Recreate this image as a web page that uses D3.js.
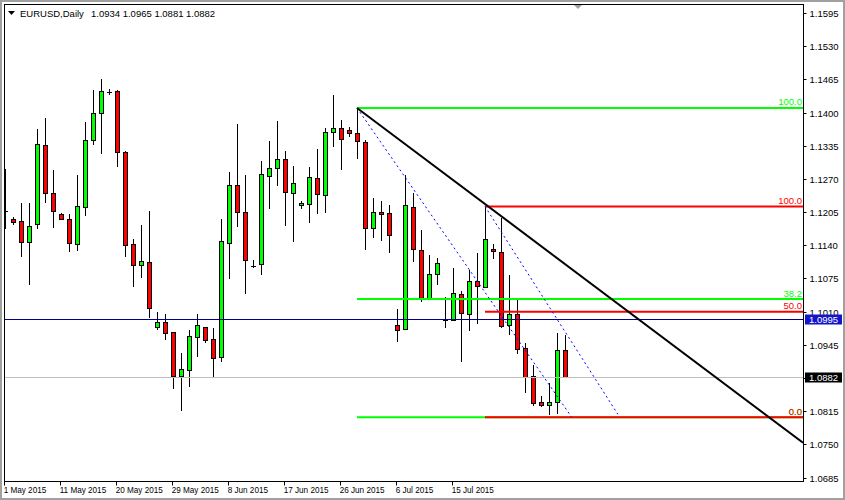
<!DOCTYPE html>
<html><head><meta charset="utf-8">
<script src="https://cdn.jsdelivr.net/npm/d3@7"></script>
<style>
html,body{margin:0;padding:0;background:#fff;}
svg{display:block;font-family:'Liberation Sans',Arial,sans-serif;}
</style></head>
<body>
<svg id="chart" width="845" height="500"></svg>
<script>
// ---- data ----
const symbol = "EURUSD,Daily";
const open  = [1.1208,1.1191,1.1187,1.1146,1.1181,1.1336,1.1243,1.1201,1.1191,1.1142,1.1214,1.1346,1.1399,1.1441,1.1442,1.1322,1.1142,1.1101,1.1107,1.0980,1.0989,1.0970,1.0883,1.0896,1.0960,1.0979,1.0956,1.0922,1.1145,1.1258,1.1205,1.1100,1.1103,1.1276,1.1291,1.1308,1.1242,1.1218,1.1220,1.1271,1.1238,1.1361,1.1369,1.1365,1.1359,1.1342,1.1173,1.1205,1.1203,1.0983,1.0975,1.1214,1.1130,1.1036,1.1083,1.0993,1.0993,1.1044,1.1005,1.1069,1.1058,1.1132,1.1126,1.0983,1.1005,1.0938,1.0883,1.0832,1.0828,1.0832,1.0934];
const high  = [1.1289,1.1195,1.1222,1.1222,1.1367,1.1389,1.1287,1.1203,1.1201,1.1278,1.1382,1.1444,1.1466,1.1446,1.1444,1.1325,1.1152,1.1180,1.1207,1.1009,1.1006,1.0970,1.0928,1.0974,1.1005,1.0979,1.0978,1.1191,1.1284,1.1378,1.1277,1.1111,1.1305,1.1344,1.1383,1.1325,1.1295,1.1227,1.1293,1.1329,1.1370,1.1434,1.1385,1.1372,1.1409,1.1347,1.1233,1.1227,1.1218,1.1015,1.1278,1.1242,1.1169,1.1120,1.1116,1.1039,1.1095,1.1051,1.1091,1.1124,1.1216,1.1142,1.1193,1.1082,1.1033,1.0949,1.0905,1.0844,1.0870,1.0969,1.0965];
const low   = [1.1174,1.1181,1.1119,1.1065,1.1173,1.1225,1.1176,1.1191,1.1129,1.1130,1.1199,1.1338,1.1321,1.1436,1.1296,1.1118,1.1061,1.1077,1.1000,1.0976,1.0956,1.0861,1.0817,1.0865,1.0924,1.0951,1.0884,1.0914,1.1076,1.1178,1.1047,1.1098,1.1083,1.1212,1.1259,1.1180,1.1149,1.1212,1.1186,1.1204,1.1206,1.1335,1.1290,1.1355,1.1310,1.1133,1.1156,1.1151,1.1127,1.0953,1.0975,1.1110,1.1030,1.1036,1.1064,1.0979,1.0993,1.0914,1.0973,1.0988,1.1058,1.1116,1.0979,1.0966,1.0928,1.0853,1.0828,1.0826,1.0809,1.0811,1.0881];
const close = [1.1208,1.1186,1.1147,1.1177,1.1338,1.1242,1.1207,1.1192,1.1144,1.1216,1.1346,1.1400,1.1442,1.1441,1.1322,1.1140,1.1101,1.1109,1.1017,1.0989,1.0968,1.0884,1.0897,1.0962,1.0983,1.0955,1.0920,1.1148,1.1259,1.1206,1.1111,1.1100,1.1279,1.1291,1.1308,1.1244,1.1261,1.1222,1.1273,1.1240,1.1361,1.1369,1.1348,1.1359,1.1344,1.1173,1.1205,1.1201,1.1160,1.0973,1.1218,1.1132,1.1036,1.1083,1.1105,1.0996,1.1046,1.1007,1.1069,1.1060,1.1152,1.1128,1.0981,1.1005,1.0936,1.0881,1.0830,1.0828,1.0832,1.0934,1.0882];

const dateIdx    = [0,7,14,21,28,35,42,49,56];
const dateLabels = ["1 May 2015","11 May 2015","20 May 2015","29 May 2015","8 Jun 2015","17 Jun 2015","26 Jun 2015","6 Jul 2015","15 Jul 2015"];
const priceTicks = [1.1595,1.1530,1.1465,1.1400,1.1335,1.1270,1.1205,1.1140,1.1075,1.1010,1.0945,1.0880,1.0815,1.0750,1.0685];

// Fibonacci retracements: [anchor bar, 100% price, 0% price]
const fibGreenAnchor = [44, 1.1409, 1.0803];
const fibGreenLevels = [0, 38.2, 100];
const fibRedAnchor   = [60, 1.1216, 1.0803];
const fibRedLevels   = [0, 50, 100];

// trend lines: [bar, price] pairs
const trendBlack = [[44, 1.1409], [99.75, 1.0753]];
const channelA   = [[44, 1.1409], [70.8, 1.0804]];
const channelB   = [[60, 1.1216], [76.6, 1.0809]];

const hLinePrice = 1.0995;
const bidPrice   = 1.0882;

// ---- layout ----
const svg = d3.select("#chart");
const L = 4, R = 803, T = 4, B = 481;
const x = d3.scaleLinear().domain([0, 1]).range([5, 13]);
const y = d3.scaleLinear().domain([1.0685, 1.1595]).range([477.5, 13]);
const fmt = d3.format(".4f");

// window frame
svg.append("rect").attr("x",0).attr("y",0).attr("width",845).attr("height",500).attr("fill","#fff");
svg.append("rect").attr("x",1).attr("y",1).attr("width",843).attr("height",498)
  .attr("fill","none").attr("stroke","#a0a0a0").attr("stroke-width",2);

svg.append("defs").append("clipPath").attr("id","plot")
  .append("rect").attr("x",L+1).attr("y",T+1).attr("width",R-L-1).attr("height",B-T-1);

const plot = svg.append("g").attr("clip-path","url(#plot)");

// candles
const idx = d3.range(open.length);
const cx = i => Math.round(x(i));
const py = v => Math.round(y(v));

plot.append("g").selectAll("line").data(idx).join("line")
  .attr("x1", i => cx(i)+0.5).attr("x2", i => cx(i)+0.5)
  .attr("y1", i => py(high[i])).attr("y2", i => py(low[i])+1)
  .attr("stroke","#000").attr("stroke-width",1);

const bodies = idx.filter(i => py(open[i]) !== py(close[i]));
const dojis  = idx.filter(i => py(open[i]) === py(close[i]));

plot.append("g").selectAll("rect").data(bodies).join("rect")
  .attr("x", i => cx(i)-1.5)
  .attr("y", i => Math.min(py(open[i]), py(close[i])) + 0.5)
  .attr("width", 4)
  .attr("height", i => Math.abs(py(open[i]) - py(close[i])))
  .attr("fill", i => close[i] > open[i] ? "#00ff00" : "#ff0000")
  .attr("stroke","#000").attr("stroke-width",1);

plot.append("g").selectAll("line").data(dojis).join("line")
  .attr("x1", i => cx(i)-2).attr("x2", i => cx(i)+3)
  .attr("y1", i => py(close[i])+0.5).attr("y2", i => py(close[i])+0.5)
  .attr("stroke","#000").attr("stroke-width",1);

// horizontal lines
plot.append("line").attr("x1",L).attr("x2",R)
  .attr("y1",py(bidPrice)+0.5).attr("y2",py(bidPrice)+0.5)
  .attr("stroke","#c0c0c0").attr("stroke-width",1);
plot.append("line").attr("x1",L).attr("x2",R)
  .attr("y1",py(hLinePrice)+0.5).attr("y2",py(hLinePrice)+0.5)
  .attr("stroke","#00008c").attr("stroke-width",1);

// fib levels
function drawFib(anchor, levels, color){
  const [bar, p100, p0] = anchor;
  const g = plot.append("g");
  levels.forEach(lv => {
    const price = p0 + (p100 - p0) * lv / 100;
    const yy = y(price);
    g.append("line").attr("x1", x(bar)).attr("x2", R)
      .attr("y1", yy).attr("y2", yy).attr("stroke", color).attr("stroke-width", 2);
    g.append("text").attr("x", R-1).attr("y", yy-2.5)
      .attr("text-anchor","end").attr("font-size","9.5px").attr("fill", color)
      .text(lv.toFixed(1));
  });
}
drawFib(fibGreenAnchor, fibGreenLevels, "#00ff00");
drawFib(fibRedAnchor, fibRedLevels, "#ff0000");

// trend lines
const lineGen = d3.line().x(d => x(d[0])).y(d => y(d[1]));
plot.append("path").attr("d", lineGen(channelA)).attr("fill","none")
  .attr("stroke","#0000ff").attr("stroke-width",1).attr("stroke-dasharray","2,3");
plot.append("path").attr("d", lineGen(channelB)).attr("fill","none")
  .attr("stroke","#0000ff").attr("stroke-width",1).attr("stroke-dasharray","2,3");
plot.append("path").attr("d", lineGen(trendBlack)).attr("fill","none")
  .attr("stroke","#000").attr("stroke-width",2);

// chart frame
svg.append("rect").attr("x",L+0.5).attr("y",T+0.5).attr("width",R-L).attr("height",B-T)
  .attr("fill","none").attr("stroke","#000").attr("stroke-width",1);

// right axis
const yAxis = d3.axisRight(y).tickValues(priceTicks).tickFormat(fmt).tickSize(3).tickPadding(3);
const ya = svg.append("g").attr("transform",`translate(${R+0.5},0)`).call(yAxis);
ya.select(".domain").remove();
ya.selectAll(".tick").attr("transform", d => `translate(0,${py(d)+0.5})`);
ya.selectAll("text").attr("font-size","9.5px").attr("font-family","'Liberation Sans',Arial,sans-serif")
  .attr("fill","#000").attr("dy","0.36em");
ya.selectAll("line").attr("stroke","#000");

// bottom axis
const xAxis = d3.axisBottom(x).tickValues(dateIdx).tickFormat((d,k) => dateLabels[k]).tickSize(4);
const xa = svg.append("g").attr("transform",`translate(0,${B+0.5})`).call(xAxis);
xa.select(".domain").remove();
xa.selectAll(".tick").attr("transform", d => `translate(${Math.round(x(d))-0.5},0)`);
xa.selectAll("text").attr("text-anchor","start").attr("x",-1).attr("y",11.5).attr("dy",0)
  .attr("transform","scale(0.86,1)")
  .attr("font-size","9.5px").attr("font-family","'Liberation Sans',Arial,sans-serif")
  .attr("fill","#000");
xa.selectAll("line").attr("stroke","#000");

// price label boxes
function priceBox(price, fill){
  const yy = py(price);
  svg.append("rect").attr("x",805).attr("y",yy-4.5).attr("width",37).attr("height",10).attr("fill",fill);
  svg.append("text").attr("x",809).attr("y",yy+4).attr("font-size","9.5px").attr("fill","#fff").text(fmt(price));
}
priceBox(hLinePrice, "#1414c8");
priceBox(bidPrice, "#000");

// header
const last = open.length - 1;
svg.append("path").attr("d","M8,11L15,11L11.5,15Z").attr("fill","#000");
svg.append("text").attr("x",20).attr("y",16.5).attr("font-size","9.5px").attr("fill","#000").text(symbol);
svg.append("text").attr("x",91).attr("y",16.5).attr("font-size","9.5px").attr("fill","#000")
  .text([open[last], high[last], low[last], close[last]].map(fmt).join(" "));

// chart shift marker
svg.append("path").attr("d","M574,5L582,5L578,9Z").attr("fill","#a0a0a0");
</script>
</body></html>
